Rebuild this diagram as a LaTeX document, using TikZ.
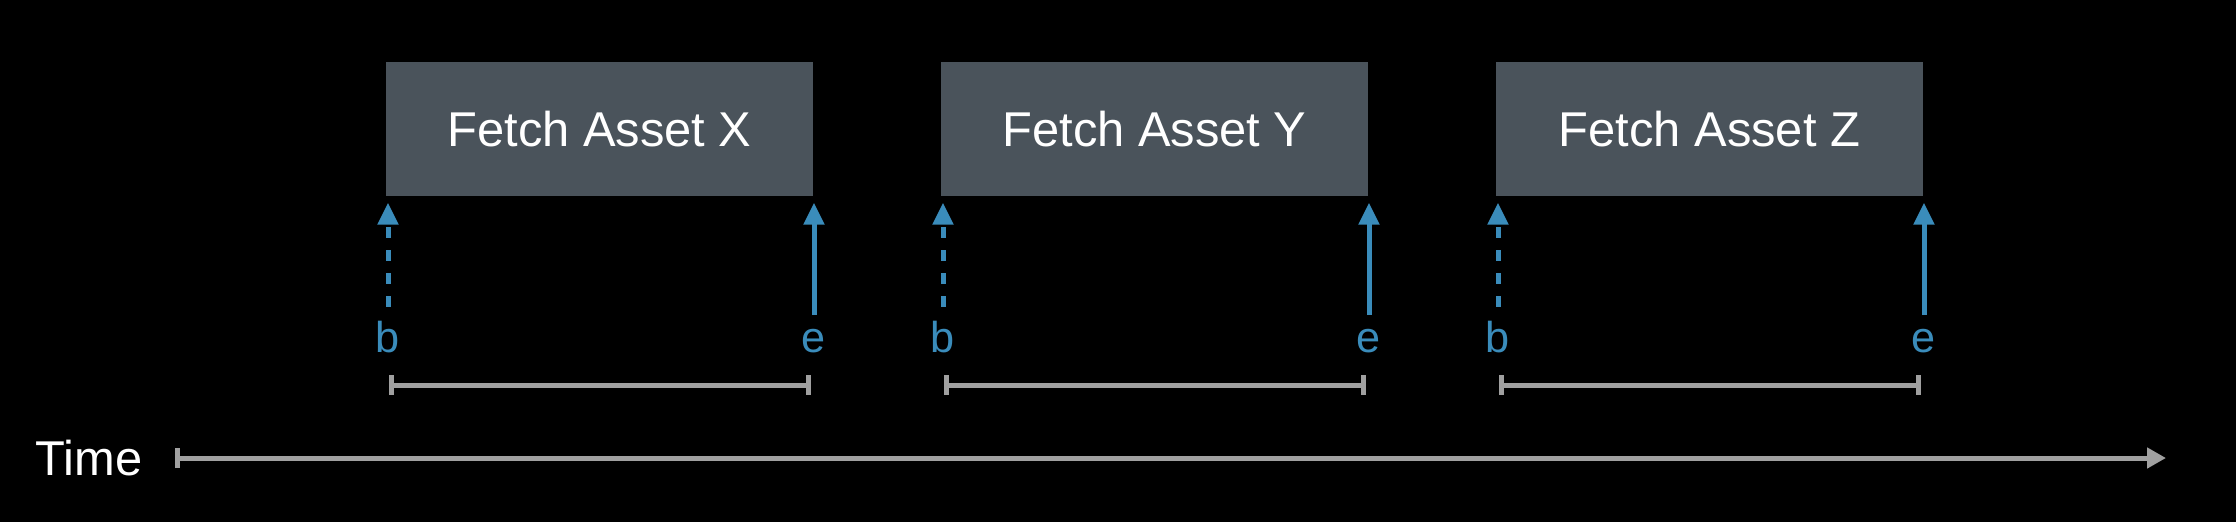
\documentclass[tikz,border=0pt]{standalone}
\usepackage{fontspec}
\setmainfont{Liberation Sans}
\usetikzlibrary{arrows.meta}

\definecolor{boxgray}{HTML}{4A535B}
\definecolor{markblue}{HTML}{3A8CBB}
\definecolor{axisgray}{HTML}{A0A0A0}

\tikzset{
  fetchbox/.style={fill=boxgray,minimum width=4.27cm,minimum height=1.34cm,inner sep=0pt,text=white,font=\fontsize{13.9}{16}\selectfont},
  marklabel/.style={anchor=base,inner sep=0pt,text=markblue,font=\fontsize{12.3}{14}\selectfont},
  markline/.style={draw=markblue,line width=0.05cm,-{Triangle[width=0.2cm,length=0.22cm]},shorten <=0.13cm,shorten >=0.06cm},
  beginline/.style={markline,dash pattern=on 0.11cm off 0.12cm},
  spanline/.style={draw=axisgray,line width=0.05cm,{Bar[width=0.2cm]}-{Bar[width=0.2cm]}}
}

\begin{document}
\begin{tikzpicture}
\fill[black] (0,0) rectangle (22.36,-5.22);
\useasboundingbox (0,0) rectangle (22.36,-5.22);

\node[fetchbox] at (5.995,-1.29) (fetchX) {Fetch Asset X};
\node[fetchbox] at (11.545,-1.29) (fetchY) {Fetch Asset Y};
\node[fetchbox] at (17.095,-1.29) (fetchZ) {Fetch Asset Z};

\node[marklabel] at (3.88,-3.52) (bX) {b};
\node[marklabel] at (8.14,-3.52) (eX) {e};
\node[marklabel] at (9.43,-3.52) (bY) {b};
\node[marklabel] at (13.69,-3.52) (eY) {e};
\node[marklabel] at (14.98,-3.52) (bZ) {b};
\node[marklabel] at (19.24,-3.52) (eZ) {e};

\draw[beginline] (bX.north) -- (bX.north |- fetchX.south);
\draw[markline] (eX.north) -- (eX.north |- fetchX.south);
\draw[beginline] (bY.north) -- (bY.north |- fetchY.south);
\draw[markline] (eY.north) -- (eY.north |- fetchY.south);
\draw[beginline] (bZ.north) -- (bZ.north |- fetchZ.south);
\draw[markline] (eZ.north) -- (eZ.north |- fetchZ.south);

% spans under each fetch
\coordinate (sX) at (3.89,-3.85);
\coordinate (tX) at (8.11,-3.85);
\coordinate (sY) at (9.44,-3.85);
\coordinate (tY) at (13.66,-3.85);
\coordinate (sZ) at (14.99,-3.85);
\coordinate (tZ) at (19.21,-3.85);
\draw[spanline] (sX) -- (tX);
\draw[spanline] (sY) -- (tY);
\draw[spanline] (sZ) -- (tZ);

% time axis
\node[anchor=base,inner sep=0pt,text=white,font=\fontsize{13.9}{16}\selectfont] at (0.89,-4.75) (time) {Time};
\coordinate (t0) at (1.75,-4.58);
\coordinate (t1) at (21.66,-4.58);
\draw[draw=axisgray,line width=0.05cm,{Bar[width=0.2cm]}-{Triangle[width=0.2cm,length=0.19cm]}] (t0) -- (t1);
\end{tikzpicture}
\end{document}
